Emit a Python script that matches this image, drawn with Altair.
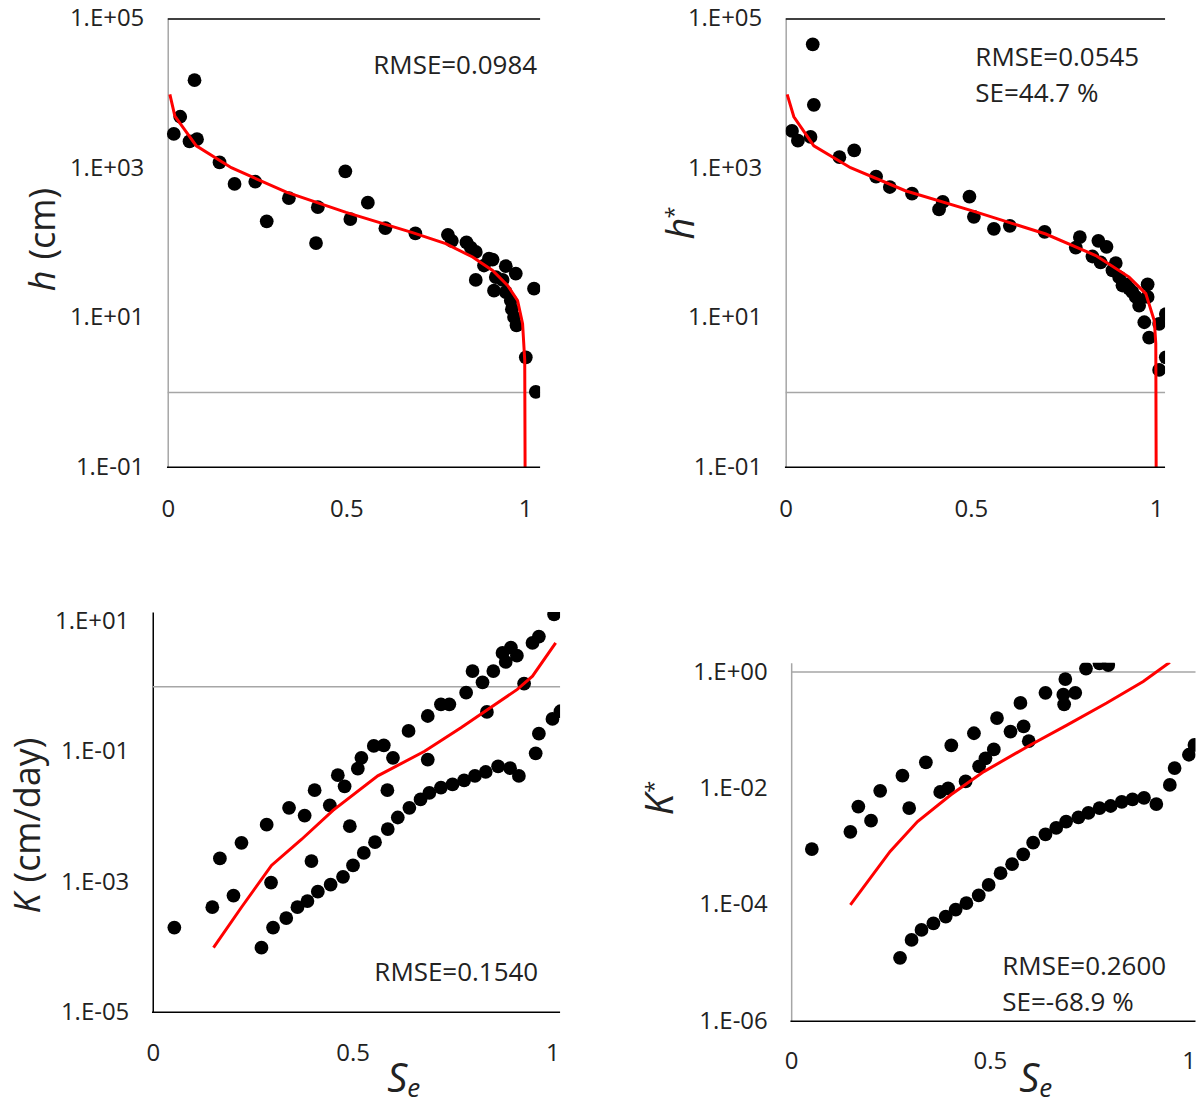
import altair as alt
import pandas as pd

FONT = "Open Sans"
TXT = "#222222"
GRAY = "#a6a6a6"

X_TICKS = [0, 0.5, 1]

# ---------------- Panel 1: h (cm) ----------------
p1_pts_x = [0.017, 0.035, 0.075, 0.061, 0.082, 0.145, 0.187, 0.245, 0.277, 0.339, 0.420, 0.415, 0.497,
            0.511, 0.560, 0.609, 0.693, 0.784, 0.795, 0.836, 0.848, 0.862, 0.899, 0.909, 0.885, 0.862,
            0.946, 0.974, 0.918, 0.937, 0.913, 0.946, 0.960, 0.963, 0.969, 0.976, 1.025, 1.002, 1.030]
p1_pts_y = [2880, 4900, 15100, 2290, 2450, 1200, 617, 661, 195, 398, 302, 100, 912,
            209, 347, 158, 135, 129, 107, 102, 87, 76, 62, 60, 50, 32,
            49, 39, 35, 32, 23, 22, 17, 13, 10.2, 7.9, 24.5, 2.95, 1.02]
p1_fit_x = [0.006, 0.02, 0.08, 0.178, 0.332, 0.499, 0.685, 0.778, 0.853, 0.909, 0.951, 0.979, 0.993, 0.999, 1.0]
p1_fit_y = [9770, 5010, 2000, 1020, 479, 257, 138, 98, 65, 43, 27, 17, 8.3, 2.7, 0.1]
p1_yticks = [0.1, 10, 1000, 100000]

# ---------------- Panel 2: h* ----------------
p2_pts_x = [0.017, 0.033, 0.067, 0.073, 0.076, 0.145, 0.185, 0.244, 0.281, 0.341, 0.414, 0.424, 0.496,
            0.508, 0.562, 0.605, 0.699, 0.794, 0.783, 0.844, 0.866, 0.828, 0.850, 0.891, 0.882, 0.900,
            0.909, 0.927, 0.945, 0.977, 0.977, 0.954, 0.968, 0.981, 1.008, 1.026, 1.026, 1.008, 0.936, 0.918]
p2_pts_y = [3160, 2340, 2630, 45700, 7080, 1410, 1740, 776, 562, 457, 282, 355, 417,
            224, 155, 170, 141, 120, 87, 107, 89, 66, 55, 54, 43, 35,
            27, 24.5, 19, 28, 19, 14.5, 8.7, 5.4, 8.3, 11.2, 2.95, 2.0, 22, 28]
p2_fit_x = [0.004, 0.022, 0.076, 0.175, 0.323, 0.504, 0.702, 0.837, 0.927, 0.972, 0.995, 0.999, 1.0]
p2_fit_y = [9770, 4900, 2000, 1020, 501, 269, 132, 68, 35, 21, 9.1, 4.5, 0.1]
p2_yticks = [0.1, 10, 1000, 100000]

# ---------------- Panel 3: K (cm/day) ----------------
p3_pts_x = [0.054, 0.149, 0.202, 0.168, 0.222, 0.285, 0.296, 0.341, 0.380, 0.397, 0.405, 0.443, 0.463,
            0.480, 0.493, 0.513, 0.522, 0.553, 0.578, 0.601, 0.587, 0.640, 0.688, 0.688, 0.721, 0.742,
            0.784, 0.800, 0.825, 0.836, 0.852, 0.875, 0.883, 0.896, 0.911, 0.929, 0.950, 0.966, 1.004,
            0.272, 0.301, 0.334, 0.362, 0.387, 0.413, 0.445, 0.476, 0.501, 0.528, 0.556, 0.588, 0.613,
            0.642, 0.670, 0.692, 0.721, 0.750, 0.779, 0.806, 0.833, 0.864, 0.894, 0.916, 0.958, 0.966,
            1.000, 1.020]
p3_pts_y = [2.0e-4, 4.1e-4, 6.2e-4, 2.3e-3, 4.0e-3, 7.6e-3, 9.8e-4, 0.0138, 0.0105, 2.1e-3, 0.0257, 0.0151, 0.0437,
            0.0295, 7.2e-3, 0.055, 0.081, 0.123, 0.126, 0.081, 0.0257, 0.209, 0.355, 0.076, 0.537, 0.537,
            0.81, 1.74, 1.17, 0.41, 1.74, 3.3, 2.4, 4.0, 3.0, 1.12, 4.7, 5.9, 12.9,
            9.8e-5, 2.0e-4, 2.8e-4, 4.1e-4, 5.1e-4, 7.1e-4, 9.1e-4, 1.2e-3, 1.8e-3, 2.8e-3, 4.1e-3, 6.5e-3, 9.8e-3,
            0.0138, 0.0186, 0.0234, 0.0282, 0.0316, 0.0363, 0.0427, 0.049, 0.060, 0.056, 0.0427, 0.095, 0.19,
            0.32, 0.42]
p3_fit_x = [0.152, 0.222, 0.297, 0.372, 0.451, 0.563, 0.680, 0.771, 0.838, 0.912, 0.950, 1.008]
p3_fit_y = [9.8e-5, 4.1e-4, 1.8e-3, 4.5e-3, 0.0126, 0.0427, 0.102, 0.234, 0.447, 0.91, 1.45, 4.7]
p3_yticks = [1e-5, 1e-3, 0.1, 10]

# ---------------- Panel 4: K* ----------------
p4_pts_x = [0.052, 0.149, 0.169, 0.201, 0.224, 0.280, 0.297, 0.339, 0.375, 0.395, 0.403, 0.439, 0.460,
            0.473, 0.489, 0.510, 0.518, 0.552, 0.577, 0.585, 0.598, 0.640, 0.685, 0.687, 0.690, 0.715,
            0.742, 0.776, 0.798,
            0.274, 0.303, 0.328, 0.358, 0.389, 0.414, 0.441, 0.472, 0.497, 0.527, 0.556, 0.584, 0.609,
            0.640, 0.667, 0.692, 0.723, 0.748, 0.776, 0.804, 0.832, 0.859, 0.888, 0.919, 0.953, 0.965,
            1.001, 1.015]
p4_pts_y = [9.1e-4, 1.8e-3, 4.9e-3, 2.8e-3, 9.1e-3, 0.0166, 4.6e-3, 0.0282, 8.7e-3, 0.010, 0.055, 0.0132, 0.089,
            0.024, 0.033, 0.047, 0.162, 0.095, 0.295, 0.117, 0.065, 0.44, 0.41, 0.28, 0.76, 0.44,
            1.15, 1.41, 1.32,
            1.23e-5, 2.5e-5, 3.7e-5, 4.8e-5, 6.3e-5, 8.3e-5, 1.07e-4, 1.45e-4, 2.2e-4, 3.5e-4, 5.0e-4, 7.4e-4, 1.17e-3,
            1.62e-3, 2.1e-3, 2.7e-3, 3.2e-3, 3.8e-3, 4.6e-3, 5.0e-3, 5.9e-3, 6.5e-3, 6.9e-3, 5.4e-3, 0.0115, 0.0224,
            0.038, 0.056]
p4_fit_x = [0.149, 0.249, 0.318, 0.402, 0.485, 0.602, 0.694, 0.794, 0.886, 0.953]
p4_fit_y = [1.0e-4, 8.3e-4, 2.7e-3, 7.8e-3, 0.0195, 0.056, 0.123, 0.295, 0.69, 1.48]
p4_yticks = [1e-6, 1e-4, 1e-2, 1]

EXP = "round(log(datum.value)/LN10)"
Y_LABEL_EXPR = f"'1.E' + ({EXP} < 0 ? '-' : '+') + (abs({EXP}) < 10 ? '0' : '') + abs({EXP})"


def txt(s, x, y, size=26, align="left", baseline="alphabetic", angle=0, style="normal", opacity=1.0):
    return alt.Chart(pd.DataFrame({"t": [s]})).mark_text(
        text=s, font=FONT, fontSize=size, align=align, baseline=baseline, angle=angle,
        fontStyle=style, color=TXT if opacity > 0 else "white", opacity=opacity
    ).encode(x=alt.value(x), y=alt.value(y))


def anchor(x, y, baseline="top"):
    return txt(".", x, y, size=1, align="left", baseline=baseline, opacity=0)


def one_row():
    return alt.Chart(pd.DataFrame({"a": [0]}))


def panel(px, py, fx, fy, w, xmax, ydom, yticks, h, ycolor, xpad, texts, anchors,
          lpad=0.0, top_border=False):
    W = w + lpad
    xmin = -lpad * xmax / w
    xs = alt.Scale(domain=[xmin, xmax], nice=False, zero=False)
    ys = alt.Scale(type="log", domain=ydom, nice=False)
    xa = alt.Axis(values=X_TICKS, format="~g", title=None, ticks=False, grid=False, domain=False,
                  labelFontSize=24, labelFont=FONT,
                  labelColor=TXT, labelPadding=xpad, labelFlush=False, labelOverlap=False)
    ya = alt.Axis(values=yticks, labelExpr=Y_LABEL_EXPR, title=None, ticks=False, grid=False,
                  domainColor=ycolor, domainWidth=1.5, labelFontSize=24, labelFont=FONT,
                  labelColor=TXT, labelPadding=24, labelFlush=False, labelOverlap=False,
                  offset=-lpad)

    def X():
        return alt.X("x:Q", scale=xs, axis=xa)

    def Y():
        return alt.Y("y:Q", scale=ys, axis=ya)

    pts = pd.DataFrame({"x": px, "y": py})
    fit = pd.DataFrame({"x": fx, "y": fy, "i": list(range(len(fx)))})
    layers = [
        alt.Chart(pd.DataFrame({"y": [1.0]})).mark_rule(color=GRAY, strokeWidth=1.5).encode(
            y=Y(), x=alt.value(lpad), x2=alt.value(W)),
        alt.Chart(pts).mark_circle(size=190, color="black", opacity=1, clip=True).encode(x=X(), y=Y()),
        alt.Chart(fit).mark_line(color="#ff0000", strokeWidth=3, clip=True).encode(
            x=X(), y=Y(), order=alt.Order("i:Q")),
        one_row().mark_rule(color="black", strokeWidth=1.5).encode(
            x=alt.value(lpad - 0.75), x2=alt.value(W), y=alt.value(h)),
    ]
    if top_border:
        layers.append(one_row().mark_rule(color="black", strokeWidth=1.5).encode(
            x=alt.value(lpad), x2=alt.value(W), y=alt.value(0)))
    for (s, x, y, kw) in texts:
        layers.append(txt(s, x + lpad, y, **kw))
    layers += anchors
    return alt.layer(*layers).properties(width=W, height=h)


def T(s, x, y, **kw):
    return (s, x, y, kw)


TITLE = dict(size=36, angle=270)

p1 = panel(p1_pts_x, p1_pts_y, p1_fit_x, p1_fit_y, 373, 1.042, [0.1, 1e5], p1_yticks, 449, GRAY, 30, [
    T("RMSE=0.0984", 370, 55, align="right"),
    T("h", -113, 252, align="right", style="italic", **TITLE),
    T("(cm)", -113, 241, align="left", **TITLE),
], [anchor(-153, -18), anchor(0, 519, baseline="bottom")], lpad=15, top_border=True)

p2 = panel(p2_pts_x, p2_pts_y, p2_fit_x, p2_fit_y, 380, 1.024, [0.1, 1e5], p2_yticks, 449, GRAY, 30, [
    T("RMSE=0.0545", 190, 47),
    T("SE=44.7 %", 190, 83),
    T("h", -92, 210, align="center", style="italic", size=38, angle=270),
    T("*", -105, 194, size=22, align="center", angle=270),
], [anchor(-157, -18), anchor(0, 519, baseline="bottom")], top_border=True)

p3 = panel(p3_pts_x, p3_pts_y, p3_fit_x, p3_fit_y, 408, 1.019, [1e-5, 14.1], p3_yticks, 401, "black", 29, [
    T("RMSE=0.1540", 222, 370),
    T("K", -113, 282, align="right", style="italic", **TITLE),
    T("(cm/day)", -113, 271, align="left", **TITLE),
    T("S", 245, 481, size=40, align="center", style="italic"),
    T("e", 255, 486, size=26, align="left", style="italic"),
], [anchor(-153, -20), anchor(420, 0), anchor(0, 495, baseline="bottom")])

p4 = panel(p4_pts_x, p4_pts_y, p4_fit_x, p4_fit_y, 405, 1.0176, [1e-6, 1.445], p4_yticks, 359, GRAY, 28, [
    T("RMSE=0.2600", 211.5, 313),
    T("SE=-68.9 %", 211.5, 349),
    T("K", -118.5, 142, align="center", style="italic", size=38, angle=270),
    T("*", -130.5, 124, size=22, align="center", angle=270),
    T("S", 238.5, 430, size=40, align="center", style="italic"),
    T("e", 248.5, 435, size=26, align="left", style="italic"),
], [anchor(-157, -20), anchor(0, 444, baseline="bottom")], lpad=5.5)

chart = alt.hconcat(
    alt.vconcat(p1, p3, spacing=55),
    alt.vconcat(p2, p4, spacing=106),
    spacing=56,
).properties(
    padding=0,
    autosize=alt.AutoSizeParams(type="pad"),
    background="white",
).configure_view(stroke=None)

chart.save("out.html", embed_options={"renderer": "svg", "actions": False})
